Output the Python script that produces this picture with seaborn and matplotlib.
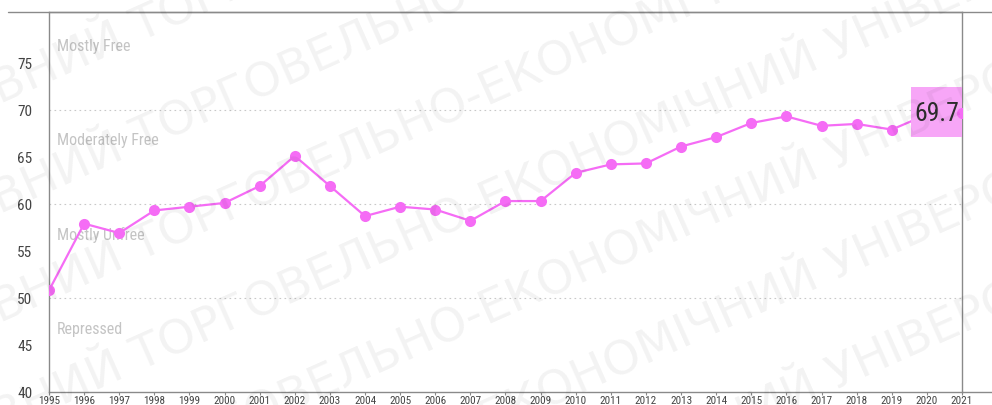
import matplotlib
matplotlib.use('Agg')
import matplotlib.pyplot as plt
import seaborn as sns
import pandas as pd
from matplotlib.patches import Rectangle

# Index of economic freedom, 1995-2021
years = list(range(1995, 2022))
scores = [50.8, 57.9, 56.9, 59.3, 59.7, 60.1, 61.9, 65.1, 61.9, 58.7,
          59.7, 59.4, 58.2, 60.3, 60.3, 63.3, 64.2, 64.3, 66.1, 67.1,
          68.6, 69.3, 68.3, 68.5, 67.9, 69.5, 69.7]

zone_labels = ['Repressed', 'Mostly Unfree', 'Moderately Free', 'Mostly Free']
zone_floors = [40, 50, 60, 70]
y_ticks = [40, 45, 50, 55, 60, 65, 70, 75]

watermark = 'ДТЕУ ДЕРЖАВНИЙ ТОРГОВЕЛЬНО-ЕКОНОМІЧНИЙ УНІВЕРСИТЕТ '

sns.set_theme(style='white')
narrow = ['Roboto Condensed', 'Liberation Sans Narrow', 'Roboto', 'DejaVu Sans']
plt.rcParams['font.family'] = narrow

pink = '#f56cf5'
df = pd.DataFrame({'year': years, 'score': scores})

fig = plt.figure(figsize=(9.92, 4.06), dpi=100)
ax = fig.add_axes([49 / 992, 13 / 406, 913 / 992, 380 / 406])

# zone boundaries
for f in zone_floors[1:]:
    ax.axhline(f, color='#c8c8c8', lw=0.8, ls=(0, (1.5, 3)), zorder=1)
for lab, f in zip(zone_labels, zone_floors):
    ax.text(years[0] + 0.23, f + 6.8, lab, color='#c4c4c4', fontsize=11.5,
            va='center', ha='left', zorder=1)

sns.lineplot(data=df, x='year', y='score', ax=ax, color=pink, lw=1.6,
             marker='o', markersize=8, markeredgewidth=0, zorder=3)

# highlight box for latest value
last_x, last_y = years[-1], scores[-1]
ax.add_patch(Rectangle((last_x - 1.45, last_y - 2.6), 1.45, 5.3,
                       facecolor='#f7a6f7', edgecolor='none', zorder=4))
ax.text(last_x - 0.72, last_y, f'{last_y}', fontsize=18.5, color='#2e2e2e',
        ha='center', va='center', zorder=5)
ax.plot([last_x], [last_y], 'o', color=pink, markersize=8, mew=0, zorder=6)

ax.set_xlim(years[0], years[-1])
ax.set_ylim(40, 80.4)
ax.set_yticks(y_ticks)
ax.set_xticks(years)
ax.set_xlabel('')
ax.set_ylabel('')
ax.tick_params(axis='y', length=0, pad=12, labelsize=11, labelcolor='#444444')
ax.tick_params(axis='x', length=2, width=0.8, color='#888888', pad=0.5,
               labelsize=8, labelcolor='#444444', bottom=True)
for side in ['left', 'right', 'top', 'bottom']:
    ax.spines[side].set_visible(True)
    ax.spines[side].set_color('#8a8a8a')
    ax.spines[side].set_linewidth(1.0)
# extend the top and bottom rules across the figure
ax.plot([-41 / 913, 1.04], [1, 1], transform=ax.transAxes, color='#8a8a8a',
        lw=1.0, clip_on=False, zorder=0)
ax.plot([1, 1.04], [0, 0], transform=ax.transAxes, color='#8a8a8a',
        lw=1.0, clip_on=False, zorder=0)

# diagonal watermark
for i in range(-3, 9):
    fig.text(-0.3, 1.0 - i * 0.27, watermark * 3, rotation=24,
             fontsize=34, color='#000000', alpha=0.05,
             family=['DejaVu Sans'], ha='left', va='center',
             rotation_mode='anchor', zorder=10)

fig.savefig('out.png', dpi=100)
